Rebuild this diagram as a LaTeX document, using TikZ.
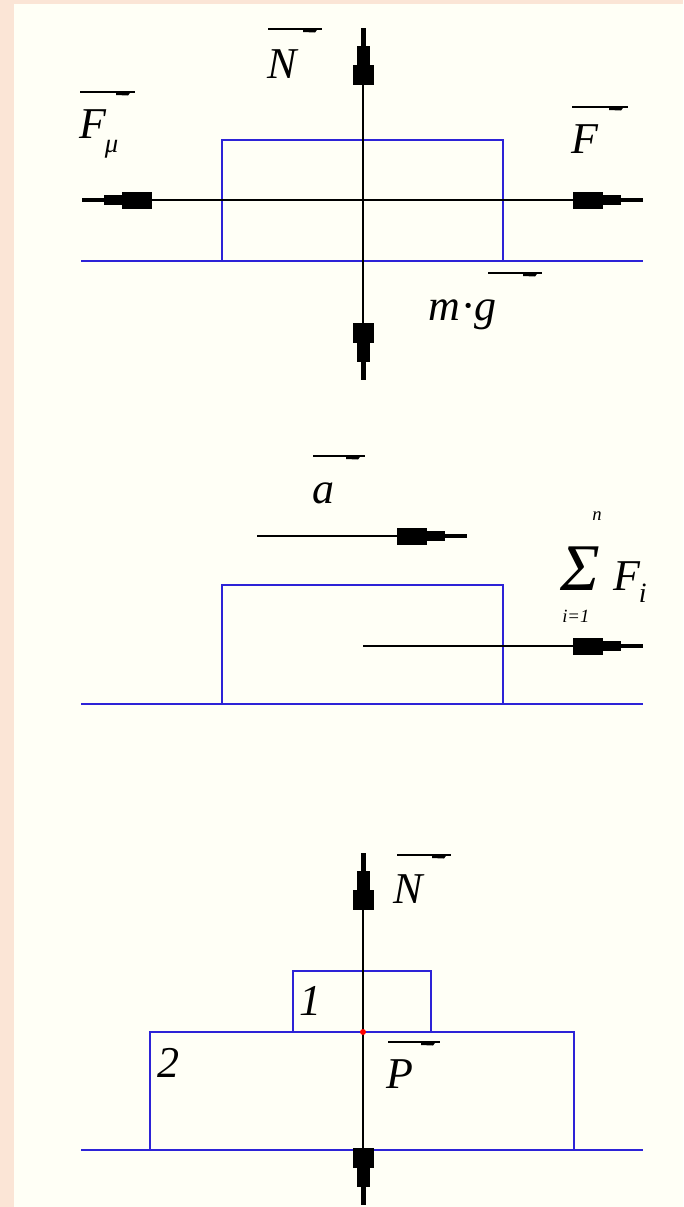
\documentclass[tikz,border=0pt]{standalone}
\usepackage{fontspec}
\setmainfont{Liberation Serif}
\usetikzlibrary{arrows.meta}
\definecolor{peach}{HTML}{FBE5D6}
\definecolor{paper}{HTML}{FFFFF6}
\definecolor{lineblue}{RGB}{45,35,215}
\newcommand\arrbar[3]{%
  \draw[vecbar] (#1,#3) -- (#2,#3);
  \fill (#2-19,#3-0.5) -- (#2-4,#3-0.5) -- (#2-7,#3+3.5) -- (#2-19,#3+3) -- cycle;}
\begin{document}
\begin{tikzpicture}[x=0.75pt,y=-0.75pt,
  groundline/.style={draw=lineblue,line width=1.5pt},
  blk/.style={draw=lineblue,line width=1.5pt},
  force/.style={draw=black,line width=1.3pt},
  hend/.style={-{Rectangle[length=22.5pt,width=12.75pt]Rectangle[length=13.5pt,width=7.5pt]Rectangle[length=16.5pt,width=3pt]}},
  hboth/.style={{Rectangle[length=16.5pt,width=3pt]Rectangle[length=13.5pt,width=7.5pt]Rectangle[length=22.5pt,width=12.75pt]}-{Rectangle[length=22.5pt,width=12.75pt]Rectangle[length=13.5pt,width=7.5pt]Rectangle[length=16.5pt,width=3pt]}},
  vend/.style={-{Rectangle[length=15pt,width=15.75pt]Rectangle[length=14.25pt,width=9.75pt]Rectangle[length=13.5pt,width=3.75pt]}},
  vboth/.style={{Rectangle[length=13.5pt,width=3.75pt]Rectangle[length=14.25pt,width=9.75pt]Rectangle[length=15pt,width=15.75pt]}-{Rectangle[length=15pt,width=15.75pt]Rectangle[length=14.25pt,width=9.75pt]Rectangle[length=13.5pt,width=3.75pt]}},
  lbl/.style={inner sep=0pt,anchor=base west,font=\fontsize{33}{40}\selectfont\itshape},
  smalllbl/.style={inner sep=0pt,anchor=base west,font=\fontsize{14}{16}\selectfont\itshape},
  sumlbl/.style={inner sep=0pt,anchor=base west,font=\fontsize{50}{55}\selectfont\itshape},
  vecbar/.style={draw=black,line width=1pt},
]
\useasboundingbox (0,0) rectangle (683,1207);
\fill[peach] (0,0) rectangle (683,1207);
\fill[paper] (14,4) rectangle (683,1207);

% ---------- panel 1 ----------
\draw[groundline] (81,261) -- (643,261);
\draw[blk] (222,261) -- (222,140) -- (503,140) -- (503,261);
\coordinate (hL) at (82,200);
\coordinate (hR) at (643,200);
\coordinate (vT) at (363,28);
\coordinate (vB) at (363,380);
\draw[force,hboth] (hL) -- (hR);
\draw[force,vboth] (vB) -- (vT);
\node[lbl] (N1) at (267,78) {N};
\arrbar{268}{322}{29}
\node[lbl] (Fmu) at (79,138) {F\kern-1pt\raisebox{-11pt}{\fontsize{20}{20}\selectfont μ}};
\arrbar{80}{135}{92}
\node[lbl] (Fr) at (571,153) {F};
\arrbar{572}{628}{107}
\node[lbl] (mg) at (428,320) {m\kern1.5pt·\kern1.5pt g};
\arrbar{488}{542}{273}

% ---------- panel 2 ----------
\draw[groundline] (81,704) -- (643,704);
\draw[blk] (222,704) -- (222,585) -- (503,585) -- (503,704);
\coordinate (aS) at (257,536);
\coordinate (aE) at (467,536);
\draw[force,hend] (aS) -- (aE);
\node[lbl] (a) at (312,503) {a};
\arrbar{313}{365}{456}
\coordinate (sS) at (363,646);
\coordinate (sE) at (643,646);
\draw[force,hend] (sS) -- (sE);
\node[sumlbl] (sig) at (560,590) {Σ};
\node[smalllbl] (sn) at (592,520) {n};
\node[smalllbl] (si) at (562,622) {i=1};
\node[lbl] (Fi) at (613,590) {F\kern-1pt\raisebox{-9pt}{\fontsize{21}{21}\selectfont i}};

% ---------- panel 3 ----------
\draw[groundline] (81,1150) -- (643,1150);
\draw[blk] (150,1150) -- (150,1032) -- (574,1032) -- (574,1150);
\draw[blk] (293,1032) -- (293,971) -- (431,971) -- (431,1032);
\coordinate (dot) at (363,1032);
\coordinate (nT) at (363,853);
\coordinate (pB) at (363,1205);
\draw[force,vend] (dot) -- (nT);
\draw[force,vend] (dot) -- (pB);
\fill[red] (dot) circle (3);
\node[lbl] (N3) at (393,903) {N};
\arrbar{397}{451}{855}
\node[lbl] (one) at (299,1015) {1};
\node[lbl] (two) at (157,1077) {2};
\node[lbl] (P) at (386,1088) {P};
\arrbar{388}{440}{1042}
\end{tikzpicture}
\end{document}
